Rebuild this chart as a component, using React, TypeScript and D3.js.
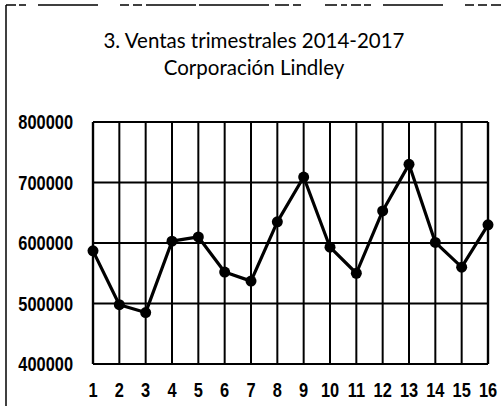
import * as d3 from "d3";

const quarters = [1, 2, 3, 4, 5, 6, 7, 8, 9, 10, 11, 12, 13, 14, 15, 16];
const sales = [
  587000, 498000, 485000, 603000, 610000, 552000, 537000, 635000, 709000,
  593000, 550000, 653000, 730000, 601000, 560000, 630000,
];
const yTicks = [400000, 500000, 600000, 700000, 800000];
const titleLines = ["3. Ventas trimestrales 2014-2017", "Corporación Lindley"];

const W = 501;
const H = 406;
const margin = { left: 93, right: 13, top: 122, bottom: 42 };

// Arial Narrow look-alike: squeeze Liberation Sans horizontally
const tickFont = "'Liberation Sans', Arial, sans-serif";
const squeeze = 0.8;

export default function App() {
  const x = d3
    .scaleLinear()
    .domain([1, 16])
    .range([margin.left, W - margin.right]);
  const y = d3
    .scaleLinear()
    .domain([400000, 800000])
    .range([H - margin.bottom, margin.top]);

  const line = d3
    .line<number>()
    .x((_, i) => x(quarters[i]))
    .y((d) => y(d));

  return (
    <svg
      width={W}
      height={H}
      viewBox={`0 0 ${W} ${H}`}
      style={{ position: "absolute", left: 0, top: 0, background: "#fff" }}
    >
      {/* scanned page border */}
      <line
        x1={6}
        x2={W}
        y1={5}
        y2={5}
        stroke="#000"
        strokeWidth={1.5}
        strokeDasharray="10,3,7,12,60,22,9,4,9,4,50,3,70,6,14,4,8,24,12,4,6,4"
      />
      <line x1={6} x2={6} y1={5} y2={H} stroke="#000" strokeWidth={1.5} />

      {/* title */}
      {titleLines.map((t, i) => (
        <text
          key={t}
          x={254}
          y={48 + i * 27}
          textAnchor="middle"
          fontFamily="Lato, 'Open Sans', sans-serif"
          fontSize={20.5}
          fill="#000"
        >
          {t}
        </text>
      ))}

      {/* grid */}
      {yTicks.map((v) => (
        <line
          key={"h" + v}
          x1={margin.left}
          x2={W - margin.right}
          y1={y(v)}
          y2={y(v)}
          stroke="#000"
          strokeWidth={2.2}
        />
      ))}
      {quarters.map((q) => (
        <line
          key={"v" + q}
          x1={x(q)}
          x2={x(q)}
          y1={margin.top}
          y2={H - margin.bottom}
          stroke="#000"
          strokeWidth={q === 1 || q === 16 ? 2.4 : 2}
        />
      ))}

      {/* y labels */}
      {yTicks.map((v) => (
        <text
          key={"yl" + v}
          transform={`translate(73,${y(v)}) scale(${squeeze},1)`}
          dy="0.36em"
          textAnchor="end"
          fontFamily={tickFont}
          fontWeight="bold"
          fontSize={20.5}
          fill="#000"
        >
          {v}
        </text>
      ))}

      {/* x labels */}
      {quarters.map((q) => (
        <text
          key={"xl" + q}
          transform={`translate(${x(q)},396.5) scale(${squeeze},1)`}
          textAnchor="middle"
          fontFamily={tickFont}
          fontWeight="bold"
          fontSize={20.5}
          fill="#000"
        >
          {q}
        </text>
      ))}

      {/* series */}
      <path
        d={line(sales) ?? ""}
        fill="none"
        stroke="#000"
        strokeWidth={3.2}
        strokeLinejoin="round"
      />
      {sales.map((v, i) => (
        <circle key={"p" + i} cx={x(quarters[i])} cy={y(v)} r={5.5} fill="#000" />
      ))}
    </svg>
  );
}
